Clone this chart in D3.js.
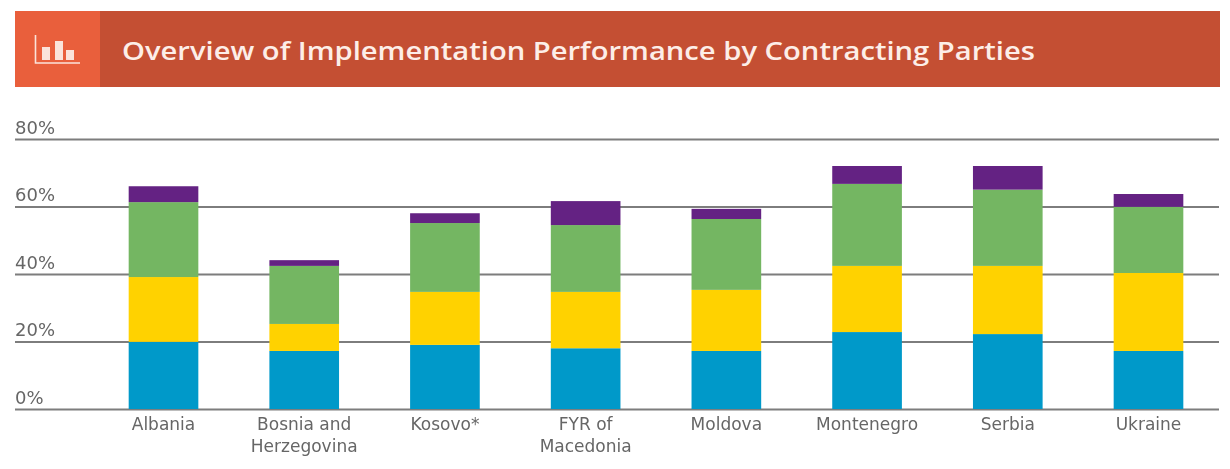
<!DOCTYPE html>
<html><head><meta charset="utf-8">
<script src="https://cdn.jsdelivr.net/npm/d3@7/dist/d3.min.js"></script>
<style>html,body{margin:0;padding:0;background:#fff}svg{display:block}</style>
</head><body><svg id="c" width="1230" height="469"></svg>
<script>
const titleText = "Overview of Implementation Performance by Contracting Parties";
const categories = ["Albania","Bosnia and|Herzegovina","Kosovo*","FYR of|Macedonia","Moldova","Montenegro","Serbia","Ukraine"];
const seriesBlue   = [19.9,17.2,19.0,18.0,17.2,22.8,22.2,17.2];
const seriesYellow = [19.2, 8.0,15.7,16.7,18.1,19.6,20.2,23.1];
const seriesGreen  = [22.2,17.2,20.4,19.8,21.0,24.3,22.6,19.6];
const seriesPurple = [ 4.7, 1.7, 2.9, 7.1, 3.0, 5.3, 7.0, 3.8];
const seriesColors = ["#0099c9","#ffd200","#74b662","#642283"];
const yTicks = [0,20,40,60,80];

const svg = d3.select("#c");
const root = svg.append("g").style("filter","blur(0.6px)");
const x = d3.scaleBand().domain(categories).range([93.5,1218.5]).paddingInner(0.505).paddingOuter(0.25);
const y = d3.scaleLinear().domain([0,80]).range([409,139]);

// header
root.append("rect").attr("x",15).attr("y",11).attr("width",1205).attr("height",76).attr("fill","#c44f33");
root.append("rect").attr("x",15).attr("y",11).attr("width",85).attr("height",76).attr("fill","#e95f3c");
const icon = root.append("g").attr("fill","#fbe3da");
icon.append("path").attr("d","M35.5 35V63H80").attr("fill","none").attr("stroke","#fbe3da").attr("stroke-width",1.6);
[[42,47,8,13],[55,41,8,19],[66,50,8,10]].forEach(r=>icon.append("rect").attr("x",r[0]).attr("y",r[1]).attr("width",r[2]).attr("height",r[3]));
root.append("text").attr("x",122).attr("y",60).attr("font-family","'Open Sans'").attr("font-weight",600)
  .attr("font-size",26).attr("fill","#fdeee8").attr("textLength",913).attr("lengthAdjust","spacingAndGlyphs").text(titleText);

// grid + y axis
const yAxis = d3.axisLeft(y).tickValues(yTicks).tickSize(-1204).tickFormat(d=>d+"%");
const ga = root.append("g").attr("transform","translate(15,0)").call(yAxis);
ga.select(".domain").remove();
ga.selectAll("line").attr("stroke","#7d7d7d").attr("stroke-width",2);
ga.selectAll("text").attr("x",0).attr("dy",0).attr("y",-6).attr("text-anchor","start")
  .attr("font-family","'DejaVu Sans'").attr("font-size",18).attr("fill","#666");

// stacked bars
const rows = categories.map((c,i)=>({c,blue:seriesBlue[i],yellow:seriesYellow[i],green:seriesGreen[i],purple:seriesPurple[i]}));
const stack = d3.stack().keys(["blue","yellow","green","purple"])(rows);
root.append("g").selectAll("g").data(stack).join("g").attr("fill",(d,i)=>seriesColors[i])
  .selectAll("rect").data(d=>d).join("rect")
  .attr("x",d=>x(d.data.c)).attr("width",x.bandwidth())
  .attr("y",d=>y(d[1])).attr("height",d=>y(d[0])-y(d[1]));

// x labels
const lab = root.append("g").attr("font-family","'DejaVu Sans'").attr("font-size",17).attr("fill","#666").attr("text-anchor","middle");
categories.forEach(c=>{
  const cx = x(c)+x.bandwidth()/2;
  const t = lab.append("text").attr("x",cx).attr("y",430);
  c.split("|").forEach((s,i)=>t.append("tspan").attr("x",cx).attr("dy",i?22:0).text(s));
});
</script></body></html>
